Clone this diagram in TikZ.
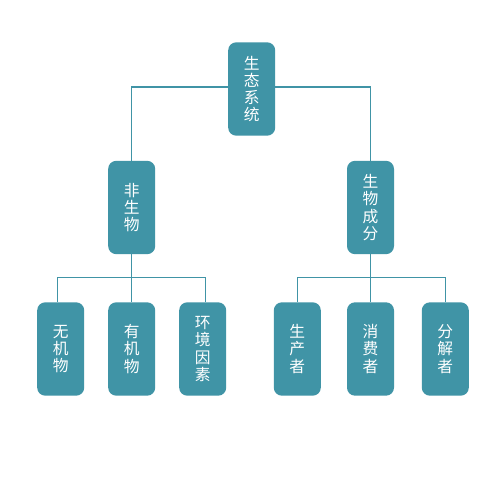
\documentclass[tikz,border=0pt]{standalone}
\usepackage{fontspec}
\newfontfamily\cjk{Noto Sans CJK SC}
\definecolor{teal1}{RGB}{64,148,166}
\begin{document}
\begin{tikzpicture}[x=0.75pt,y=-0.75pt,
  box/.style={fill=teal1,draw=none,rounded corners=6pt,minimum width=35.25pt,minimum height=70pt,
    inner sep=0pt,align=center,text=white,font=\cjk\fontsize{11.8}{12.9}\selectfont},
  conn/.style={draw=teal1,line width=0.85pt}]
\fill[white] (0,0) rectangle (500,500);
\useasboundingbox (0,0) rectangle (500,500);
\node[box] (root) at (251.7,89) {生\\态\\系\\统};
\node[box] (nb) at (131.7,207.5) {非\\生\\物};
\node[box] (bio) at (370.5,207.5) {生\\物\\成\\分};
\node[box] (l1) at (60.7,349) {无\\机\\物};
\node[box] (l2) at (131.7,349) {有\\机\\物};
\node[box] (l3) at (202.7,349) {环\\境\\因\\素};
\node[box] (r1) at (297.3,349) {生\\产\\者};
\node[box] (r2) at (370.5,349) {消\\费\\者};
\node[box] (r3) at (445.3,349) {分\\解\\者};
\coordinate (bl1) at (57.3,277.3);
\coordinate (bl3) at (205.7,277.3);
\coordinate (br1) at (297.3,277.3);
\coordinate (br3) at (445.3,277.3);
\draw[conn] (root.west |- 0,87) -| (nb.north);
\draw[conn] (root.east |- 0,87) -| (bio.north);
\draw[conn] (nb.south) -- (nb.south |- bl1);
\draw[conn] (bl1) -- (bl3);
\draw[conn] (bl1) -- (bl1 |- l1.north);
\draw[conn] (nb.south |- bl1) -- (l2.north);
\draw[conn] (bl3) -- (bl3 |- l3.north);
\draw[conn] (bio.south) -- (bio.south |- br1);
\draw[conn] (br1) -- (br3);
\draw[conn] (br1) -- (r1.north);
\draw[conn] (bio.south |- br1) -- (r2.north);
\draw[conn] (br3) -- (r3.north);
\end{tikzpicture}
\end{document}
